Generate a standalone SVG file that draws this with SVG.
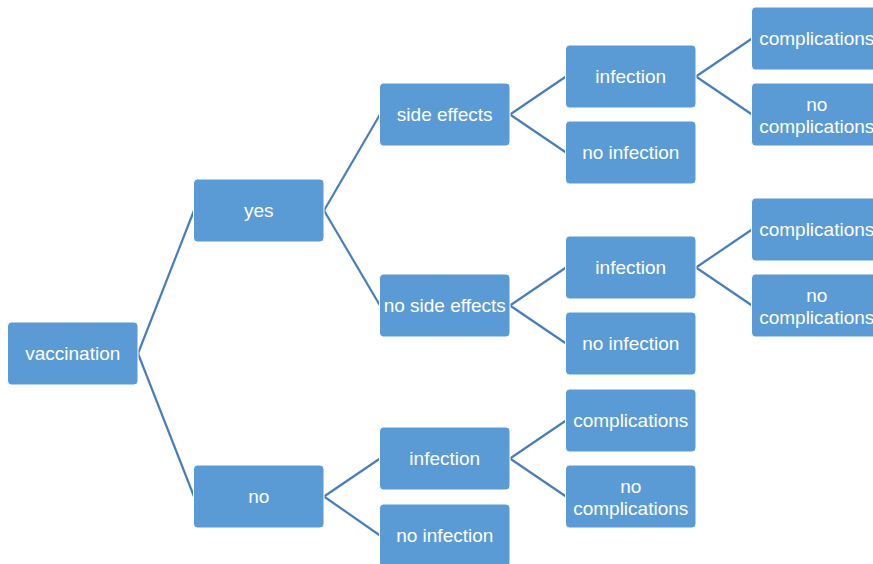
<svg xmlns="http://www.w3.org/2000/svg" width="873" height="564" viewBox="0 0 873 564">
<style>
.n rect{fill:#5B9BD5;stroke:#FFFFFF;stroke-width:1}
.n text{fill:#FFFFFF;font-family:"Liberation Sans",Arial,sans-serif;font-size:19px;text-anchor:middle}
.c line{stroke:#4A7EBB;stroke-width:2.2}
</style>
<rect width="873" height="564" fill="#FFFFFF"/>
<g id="connectors" class="c">
<line x1="138" y1="353.5" x2="194" y2="210.5"/>
<line x1="138" y1="353.5" x2="194" y2="496.5"/>
<line x1="324" y1="210.5" x2="380" y2="114.5"/>
<line x1="324" y1="210.5" x2="380" y2="305.5"/>
<line x1="324" y1="496.5" x2="380" y2="458.5"/>
<line x1="324" y1="496.5" x2="380" y2="535.5"/>
<line x1="510" y1="114.5" x2="566" y2="76.5"/>
<line x1="510" y1="114.5" x2="566" y2="152.5"/>
<line x1="510" y1="305.5" x2="566" y2="267.5"/>
<line x1="510" y1="305.5" x2="566" y2="343.5"/>
<line x1="510" y1="458.5" x2="566" y2="420.5"/>
<line x1="510" y1="458.5" x2="566" y2="496.5"/>
<line x1="696" y1="76.5" x2="752" y2="38.5"/>
<line x1="696" y1="76.5" x2="752" y2="114.5"/>
<line x1="696" y1="267.5" x2="752" y2="229.5"/>
<line x1="696" y1="267.5" x2="752" y2="305.5"/>
</g>
<g id="vaccination" class="n"><rect x="7.5" y="322" width="130.5" height="63" rx="4"/><text x="72.75" y="360">vaccination</text></g>
<g id="yes" class="n"><rect x="193.5" y="179" width="130.5" height="63" rx="4"/><text x="258.75" y="217">yes</text></g>
<g id="no" class="n"><rect x="193.5" y="465" width="130.5" height="63" rx="4"/><text x="258.75" y="503">no</text></g>
<g id="side-effects" class="n"><rect x="379.5" y="83" width="130.5" height="63" rx="4"/><text x="444.75" y="121">side effects</text></g>
<g id="no-side-effects" class="n"><rect x="379.5" y="274" width="130.5" height="63" rx="4"/><text x="444.75" y="312">no side effects</text></g>
<g id="no-infection-a" class="n"><rect x="379.5" y="427" width="130.5" height="63" rx="4"/><text x="444.75" y="465">infection</text></g>
<g id="no-no-infection" class="n"><rect x="379.5" y="504" width="130.5" height="63" rx="4"/><text x="444.75" y="542">no infection</text></g>
<g id="se-infection" class="n"><rect x="565.5" y="45" width="130.5" height="63" rx="4"/><text x="630.75" y="83">infection</text></g>
<g id="se-no-infection" class="n"><rect x="565.5" y="121" width="130.5" height="63" rx="4"/><text x="630.75" y="159">no infection</text></g>
<g id="nse-infection" class="n"><rect x="565.5" y="236" width="130.5" height="63" rx="4"/><text x="630.75" y="274">infection</text></g>
<g id="nse-no-infection" class="n"><rect x="565.5" y="312" width="130.5" height="63" rx="4"/><text x="630.75" y="350">no infection</text></g>
<g id="no-complications" class="n"><rect x="565.5" y="389" width="130.5" height="63" rx="4"/><text x="630.75" y="427">complications</text></g>
<g id="no-no-complications" class="n"><rect x="565.5" y="465" width="130.5" height="63" rx="4"/><text x="630.75" y="493">no</text><text x="630.75" y="515">complications</text></g>
<g id="se-complications" class="n"><rect x="751.5" y="7" width="130.5" height="63" rx="4"/><text x="816.75" y="45">complications</text></g>
<g id="se-no-complications" class="n"><rect x="751.5" y="83" width="130.5" height="63" rx="4"/><text x="816.75" y="111">no</text><text x="816.75" y="133">complications</text></g>
<g id="nse-complications" class="n"><rect x="751.5" y="198" width="130.5" height="63" rx="4"/><text x="816.75" y="236">complications</text></g>
<g id="nse-no-complications" class="n"><rect x="751.5" y="274" width="130.5" height="63" rx="4"/><text x="816.75" y="302">no</text><text x="816.75" y="324">complications</text></g>
</svg>
